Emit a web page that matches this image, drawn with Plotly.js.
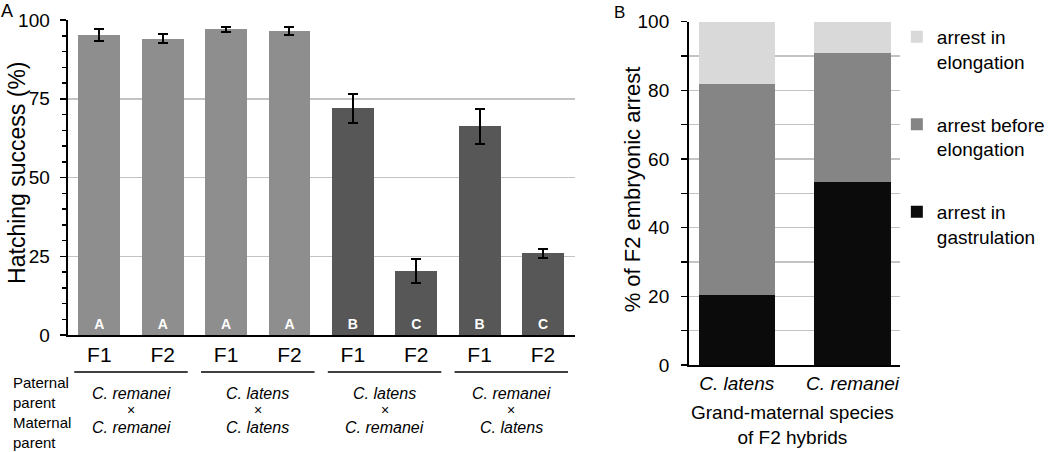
<!DOCTYPE html>
<html><head><meta charset="utf-8">
<script src="https://cdn.plot.ly/plotly-3.0.1.min.js"></script>
<style>html,body{margin:0;padding:0;background:#fff}#chart{width:1050px;height:452px}</style>
</head><body><div id="chart"></div>
<script>
// ---- Panel A data ----
const generations = ['F1','F2','F1','F2','F1','F2','F1','F2'];
const hatching = [95.3, 94.1, 97.0, 96.5, 72.0, 20.3, 66.3, 25.9];
const hatchingErr = [2.0, 1.3, 0.9, 1.3, 4.6, 3.7, 5.6, 1.4];
const letters = ['A','A','A','A','B','C','B','C'];
const crossKind = ['pure','pure','pure','pure','hybrid','hybrid','hybrid','hybrid'];
const paternal = ['C. remanei','C. latens','C. latens','C. remanei'];
const maternal = ['C. remanei','C. latens','C. remanei','C. latens'];
// ---- Panel B data ----
const grandMaternal = ['C. latens','C. remanei'];
const arrestGastrulation = [20.4, 53.4];
const arrestBeforeElong = [61.5, 37.4];
const arrestElongation = [18.1, 9.2];

const W = 1050, H = 452;
const px = x => x / W, py = y => 1 - y / H;
const FONT = 'Liberation Sans, Arial, Helvetica, sans-serif';
const kindColor = {pure: '#8e8e8e', hybrid: '#575757'};
const idx = generations.map((_, i) => i);
const grid = '#c3c3c3';

const traces = [
  {
    type: 'bar', x: idx, y: hatching, xaxis: 'x', yaxis: 'y',
    marker: {color: crossKind.map(k => kindColor[k]), line: {width: 0}},
    error_y: {type: 'data', array: hatchingErr, visible: true, color: '#000', thickness: 2, width: 5},
    text: letters.map(t => '<b>' + t + '</b>'), textposition: 'inside', insidetextanchor: 'start',
    textangle: 0, textfont: {color: '#fff', size: 14, family: FONT},
    showlegend: false, hoverinfo: 'skip'
  },
  {type: 'bar', name: 'arrest in<br>gastrulation', x: [0, 1], y: arrestGastrulation, xaxis: 'x2', yaxis: 'y2',
   marker: {color: '#0b0b0b'}, legendgroup: 'g1', legendrank: 3, hoverinfo: 'skip'},
  {type: 'bar', name: 'arrest before<br>elongation', x: [0, 1], y: arrestBeforeElong, xaxis: 'x2', yaxis: 'y2',
   marker: {color: '#858585'}, legendgroup: 'g2', legendrank: 2, hoverinfo: 'skip'},
  {type: 'bar', name: 'arrest in<br>elongation', x: [0, 1], y: arrestElongation, xaxis: 'x2', yaxis: 'y2',
   marker: {color: '#d9d9d9'}, legendgroup: 'g3', legendrank: 1, hoverinfo: 'skip'}
];

const ann = (o) => Object.assign({showarrow: false, xanchor: 'center', yanchor: 'middle', xref: 'paper', yref: 'paper'}, o);
const annotations = [];
const shapes = [];
paternal.forEach((p, g) => {
  const c = 2 * g + 0.5;
  annotations.push(ann({xref: 'x', x: c, y: py(393), text: '<i>' + p + '</i>', font: {size: 16}}));
  annotations.push(ann({xref: 'x', x: c, y: py(410), text: '×', font: {size: 14}}));
  annotations.push(ann({xref: 'x', x: c, y: py(427), text: '<i>' + maternal[g] + '</i>', font: {size: 16}}));
  shapes.push({type: 'line', xref: 'x', yref: 'paper', x0: c - 0.895, x1: c + 0.895, y0: py(372), y1: py(372), line: {color: '#000', width: 1.5}});
});
annotations.push(
  ann({x: px(11), y: py(392), xanchor: 'left', align: 'left', text: 'Paternal<br>parent', font: {size: 15}}),
  ann({x: px(11), y: py(432), xanchor: 'left', align: 'left', text: 'Maternal<br>parent', font: {size: 15}}),
  ann({x: px(17), y: py(173), text: 'Hatching success (%)', textangle: -90, font: {size: 23}}),
  ann({x: px(636), y: py(189), text: '% of F2 embryonic arrest', textangle: -90, font: {size: 22}}),
  ann({x: px(797), y: py(424.5), text: 'Grand-maternal species<br>of F2 hybrids', font: {size: 19}}),
  ann({x: px(7), y: py(11), text: 'A', font: {size: 18}}),
  ann({x: px(623), y: py(12), text: 'B', font: {size: 17}})
);

const layout = {
  width: W, height: H, margin: {l: 0, r: 0, t: 0, b: 0},
  paper_bgcolor: '#fff', plot_bgcolor: '#fff',
  font: {family: FONT, color: '#000'},
  barmode: 'stack', bargap: 0.34,
  showlegend: true,
  legend: {x: px(902), xanchor: 'left', y: py(18), yanchor: 'top', font: {size: 19},
           traceorder: 'grouped', tracegroupgap: 35, valign: 'top', bgcolor: 'rgba(0,0,0,0)'},
  xaxis: {domain: [px(68), px(578)], range: [-0.5, 7.5], anchor: 'y', tickvals: idx, ticktext: generations,
          ticks: '', tickfont: {size: 21}, showline: true, linecolor: '#000', linewidth: 2,
          showgrid: false, zeroline: false, fixedrange: true, automargin: false},
  xaxis3: {overlaying: 'x', anchor: 'y', side: 'bottom', range: [-0.5, 7.5], tickvals: [-0.5, 1.5, 3.5, 5.5, 7.5],
           ticks: 'outside', ticklen: 7, tickwidth: 1.5, tickcolor: '#000', showticklabels: false,
           showgrid: false, showline: false, zeroline: false, automargin: false},
  yaxis: {domain: [py(335), py(20)], range: [0, 100], dtick: 25, tick0: 0, ticks: 'outside', ticklen: 6,
          tickwidth: 1.5, tickcolor: '#000', showline: true, linecolor: '#000', linewidth: 2,
          gridcolor: grid, gridwidth: 1.5, zeroline: false, tickfont: {size: 19}, ticklabelstandoff: 6,
          minor: {dtick: 5, tick0: 0, ticks: 'outside', ticklen: 4, tickwidth: 1.5, tickcolor: '#000', showgrid: false},
          automargin: false, fixedrange: true},
  xaxis2: {domain: [px(693), px(905)], range: [-0.412, 1.408], anchor: 'y2', tickvals: [0, 1],
           ticktext: grandMaternal.map(s => '<i>' + s + '</i>'), ticks: '', tickfont: {size: 19},
           showline: true, linecolor: '#000', linewidth: 2, showgrid: false, zeroline: false, automargin: false, fixedrange: true},
  yaxis2: {domain: [py(365), py(21.7)], range: [0, 100], dtick: 20, tick0: 0, anchor: 'x2', ticks: 'outside', ticklen: 6,
           tickwidth: 1.5, tickcolor: '#000', showline: true, linecolor: '#000', linewidth: 2,
           gridcolor: grid, gridwidth: 1.5, zeroline: false, tickfont: {size: 19}, ticklabelstandoff: 8,
           minor: {dtick: 10, tick0: 0, ticks: 'outside', ticklen: 6, tickwidth: 1.5, tickcolor: '#000', showgrid: true, gridcolor: grid, gridwidth: 1.5},
           automargin: false, fixedrange: true},
  annotations: annotations,
  shapes: shapes
};

Plotly.newPlot('chart', traces, layout, {displayModeBar: false, staticPlot: true});
</script></body></html>
